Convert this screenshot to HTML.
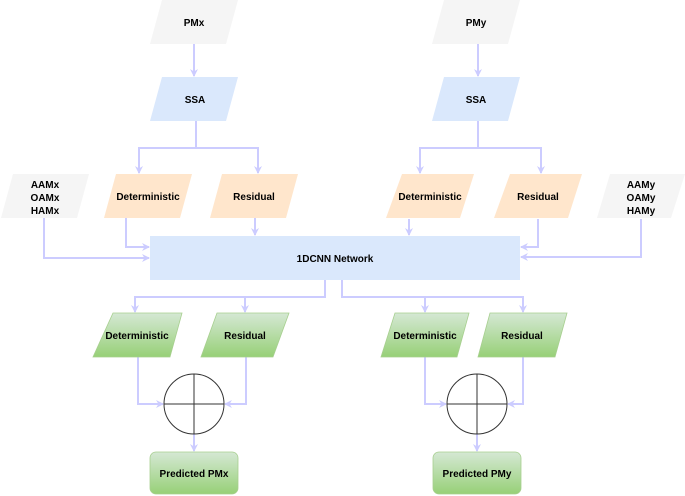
<!DOCTYPE html>
<html><head><meta charset="utf-8"><style>
html,body{margin:0;padding:0;background:#fff;}
svg{display:block;}
text{font-family:"Liberation Sans",Arial,sans-serif;font-weight:bold;font-size:10px;fill:#000;}
</style></head><body>
<svg width="685" height="496" viewBox="0 0 685 496" xmlns="http://www.w3.org/2000/svg">
<defs>
<linearGradient id="g" x1="0" y1="0" x2="0" y2="1"><stop offset="0" stop-color="#d5e8d4"/><stop offset="1" stop-color="#97d077"/></linearGradient>
<marker id="a" markerWidth="8" markerHeight="8" refX="7" refY="4" orient="auto" markerUnits="userSpaceOnUse"><path d="M0,0 L8,4 L0,8 L2.5,4 Z" fill="#ccccff"/></marker>
</defs>
<g fill="none" stroke="#ccccff" stroke-width="2" marker-end="url(#a)">
<path d="M194,44 V76"/><path d="M478,44 V76"/>
<path d="M196,121 V148 H139 V173"/><path d="M196,148 H258 V173"/>
<path d="M478,121 V148 H420 V173"/><path d="M478,148 H541 V173"/>
<path d="M126,218 V247 H149"/><path d="M44,218 V258 H149"/><path d="M255,218 V235"/>
<path d="M409,219 V235"/><path d="M538,219 V247 H521"/><path d="M641,219 V257 H521"/>
<path d="M325,280 V297 H135 V312"/><path d="M245,297 V312"/>
<path d="M342,280 V297 H425 V312"/><path d="M425,297 H523 V312"/>
<path d="M138,357 V404 H163"/><path d="M246,357 V404 H225"/><path d="M194,434 V451"/>
<path d="M425,357 V404 H446"/><path d="M523,357 V404 H508"/><path d="M477,434 V451"/>
</g>
<polygon points="162,0 238,0 226,44 150,44" fill="#f5f5f5"/>
<polygon points="162,77 238,77 226,121 150,121" fill="#dae8fc"/>
<polygon points="444,0 520,0 508,44 432,44" fill="#f5f5f5"/>
<polygon points="444,77 520,77 508,121 432,121" fill="#dae8fc"/>
<polygon points="116,174 192,174 180,218 104,218" fill="#ffe6cc"/>
<polygon points="222,174 298,174 286,218 210,218" fill="#ffe6cc"/>
<polygon points="13,174 89,174 77,218 1,218" fill="#f5f5f5"/>
<polygon points="402,174 474,174 460,218 386,218" fill="#ffe6cc"/>
<polygon points="510,174 582,174 568,218 494,218" fill="#ffe6cc"/>
<polygon points="610,174 685,174 671,218 597,218" fill="#f5f5f5"/>
<rect x="150" y="236" width="370" height="44" fill="#dae8fc"/>
<polygon points="113,313 182,313 170,357 93,357" fill="url(#g)" stroke="#a7cf8f" stroke-width="0.8"/>
<polygon points="217,313 289,313 273,357 201,357" fill="url(#g)" stroke="#a7cf8f" stroke-width="0.8"/>
<polygon points="395,313 469,313 457,357 381,357" fill="url(#g)" stroke="#a7cf8f" stroke-width="0.8"/>
<polygon points="490,313 567,313 555,357 478,357" fill="url(#g)" stroke="#a7cf8f" stroke-width="0.8"/>
<rect x="150" y="452" width="88" height="42" rx="6" fill="url(#g)" stroke="#a7cf8f" stroke-width="0.8"/>
<rect x="433" y="452" width="88" height="42" rx="6" fill="url(#g)" stroke="#a7cf8f" stroke-width="0.8"/>
<g fill="none" stroke="#333" stroke-width="1">
<circle cx="194" cy="404" r="30"/><path d="M164,404 H224 M194,374 V434"/>
<circle cx="477" cy="404" r="30"/><path d="M447,404 H507 M477,374 V434"/>
</g>
<g text-anchor="middle">
<text x="194" y="26">PMx</text><text x="476" y="26">PMy</text>
<text x="195" y="103">SSA</text><text x="476" y="103">SSA</text>
<text x="148" y="200">Deterministic</text><text x="254" y="200">Residual</text>
<text x="430" y="200">Deterministic</text><text x="538" y="200">Residual</text>
<text x="45" y="188">AAMx</text><text x="45" y="201">OAMx</text><text x="45" y="214">HAMx</text>
<text x="641" y="188">AAMy</text><text x="641" y="201">OAMy</text><text x="641" y="214">HAMy</text>
<text x="335" y="262">1DCNN Network</text>
<text x="137" y="339">Deterministic</text><text x="245" y="339">Residual</text>
<text x="425" y="339">Deterministic</text><text x="522" y="339">Residual</text>
<text x="194" y="477">Predicted PMx</text><text x="477" y="477">Predicted PMy</text>
</g>
</svg>
</body></html>
